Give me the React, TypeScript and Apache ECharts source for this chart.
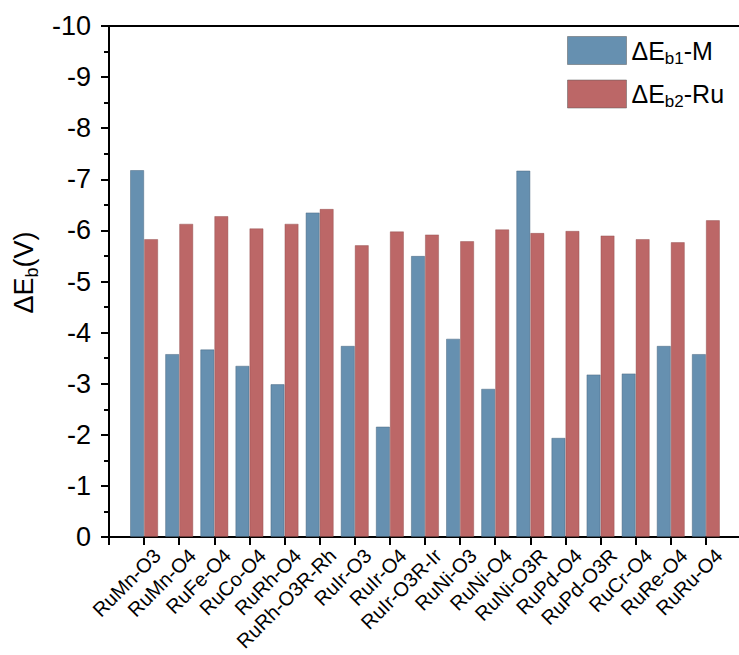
import React, { useEffect, useRef } from "react";
import * as echarts from "echarts";

// Catalyst configurations along the x axis (blank slots pad each end)
const categories = [
  "",
  "RuMn-O3", "RuMn-O4", "RuFe-O4", "RuCo-O4", "RuRh-O4", "RuRh-O3R-Rh",
  "RuIr-O3", "RuIr-O4", "RuIr-O3R-Ir", "RuNi-O3", "RuNi-O4", "RuNi-O3R",
  "RuPd-O4", "RuPd-O3R", "RuCr-O4", "RuRe-O4", "RuRu-O4",
  "",
];

// Binding energy of the dopant metal site, ΔEb1-M (V)
const eb1M = [
  null,
  -7.18, -3.58, -3.67, -3.35, -2.99, -6.35,
  -3.74, -2.16, -5.50, -3.88, -2.90, -7.17,
  -1.94, -3.18, -3.20, -3.74, -3.58,
  null,
];

// Binding energy of the Ru site, ΔEb2-Ru (V)
const eb2Ru = [
  null,
  -5.83, -6.13, -6.28, -6.04, -6.13, -6.42,
  -5.71, -5.98, -5.92, -5.79, -6.02, -5.95,
  -5.99, -5.90, -5.83, -5.77, -6.20,
  null,
];

const seriesNames = ["ΔEb1-M", "ΔEb2-Ru"];
const legendRich = ["{a|ΔE}{s|b1}{a|-M}", "{a|ΔE}{s|b2}{a|-Ru}"];

const BLUE = "#6690b0";
const RED = "#bc6767";
const FONT = "Liberation Sans, Arial, sans-serif";

export default function App() {
  const ref = useRef<HTMLDivElement>(null);

  useEffect(() => {
    document.body.style.margin = "0";
    const chart = echarts.init(ref.current!, null, { renderer: "svg" });
    chart.setOption({
      animation: false,
      backgroundColor: "#ffffff",
      textStyle: { fontFamily: FONT, color: "#000" },
      grid: { left: 109, top: 26, width: 632, bottom: 118, outerBoundsMode: "none", containLabel: false },
      legend: {
        orient: "vertical",
        left: 562,
        top: 31,
        itemWidth: 59,
        itemHeight: 28,
        itemGap: 13,
        icon: "rect",
        data: seriesNames,
        formatter: (name: string) => legendRich[seriesNames.indexOf(name)],
        textStyle: {
          color: "#000",
          fontFamily: FONT,
          rich: {
            a: { fontSize: 25, lineHeight: 32, color: "#000", fontFamily: FONT },
            s: { fontSize: 17, lineHeight: 15, verticalAlign: "bottom", color: "#000", fontFamily: FONT },
          },
        },
        itemStyle: { borderColor: "rgba(90,90,90,0.5)", borderWidth: 1 },
      },
      xAxis: [
        {
          type: "category",
          data: categories,
          boundaryGap: false,
          position: "bottom",
          axisLine: { show: true, lineStyle: { color: "#000", width: 2 } },
          axisTick: { show: true, length: 8, lineStyle: { color: "#000", width: 2 } },
          axisLabel: {
            interval: 0,
            rotate: 45,
            fontSize: 20,
            lineHeight: 21,
            margin: 2,
            verticalAlign: "top",
            padding: [8, 0, 0, 0],
            color: "#000",
            fontFamily: FONT,
          },
          splitLine: { show: false },
        },
        {
          type: "category",
          data: categories,
          boundaryGap: false,
          position: "top",
          axisLine: { show: true, lineStyle: { color: "#000", width: 2 } },
          axisTick: { show: false },
          axisLabel: { show: false },
        },
      ],
      yAxis: {
        type: "value",
        min: -10,
        max: 0,
        interval: 1,
        inverse: true,
        name: "{n|ΔE}{s|b}{n|(V)}",
        nameLocation: "middle",
        nameGap: 66,
        nameTextStyle: {
          padding: [0, 0, 0, 18],
          rich: {
            n: { fontSize: 27, lineHeight: 34, color: "#000", fontFamily: FONT },
            s: { fontSize: 18, lineHeight: 16, verticalAlign: "bottom", color: "#000", fontFamily: FONT },
          },
        },
        axisLine: { show: true, lineStyle: { color: "#000", width: 2 } },
        axisTick: { show: true, length: 8, lineStyle: { color: "#000", width: 2 } },
        minorTick: { show: true, splitNumber: 2, length: 5, lineStyle: { color: "#000", width: 2 } },
        axisLabel: { fontSize: 27, margin: 18, color: "#000", fontFamily: FONT },
        splitLine: { show: false },
      },
      series: [
        {
          name: seriesNames[0],
          type: "bar",
          data: eb1M,
          barWidth: 14,
          barGap: "0%",
          itemStyle: { color: BLUE, borderColor: "rgba(70,100,125,0.6)", borderWidth: 0.8 },
        },
        {
          name: seriesNames[1],
          type: "bar",
          data: eb2Ru,
          barWidth: 14,
          barGap: "0%",
          itemStyle: { color: RED, borderColor: "rgba(140,70,70,0.5)", borderWidth: 0.8 },
        },
      ],
    });
    return () => chart.dispose();
  }, []);

  return <div ref={ref} style={{ width: 739, height: 655 }} />;
}
